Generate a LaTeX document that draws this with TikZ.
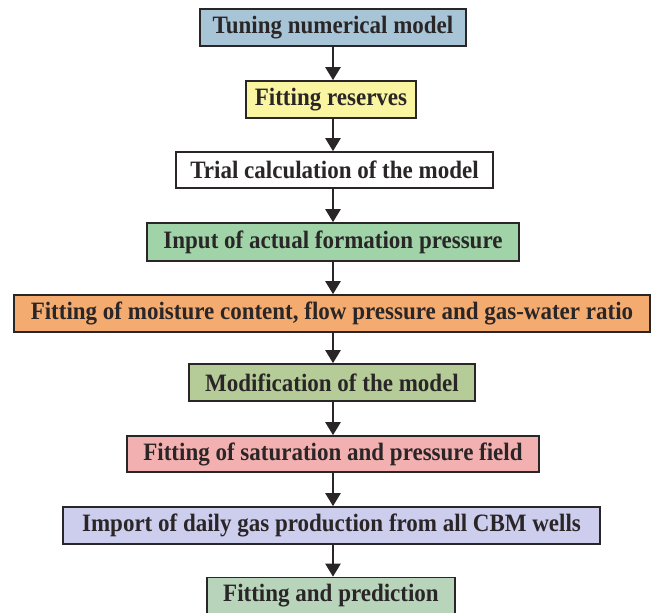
\documentclass[tikz,border=0pt]{standalone}
\usepackage{fontspec}
\setmainfont{Liberation Serif}
\newfontfamily\boxfont[FakeStretch=0.92]{Liberation Serif}
\usetikzlibrary{arrows.meta}
\definecolor{cA}{HTML}{A8C5D8}
\definecolor{cB}{HTML}{FAF5A0}
\definecolor{cC}{HTML}{FFFFFF}
\definecolor{cD}{HTML}{A0D4A8}
\definecolor{cE}{HTML}{F4AB70}
\definecolor{cF}{HTML}{B5CC98}
\definecolor{cG}{HTML}{F2B0B0}
\definecolor{cH}{HTML}{CDCDEE}
\definecolor{cI}{HTML}{B8D4BB}
\definecolor{ink}{HTML}{2A2627}
\begin{document}
\begin{tikzpicture}[x=1pt,y=-1pt,
  stepbox/.style={draw=ink,line width=1.6pt,inner sep=0pt,
    font=\boxfont\fontsize{25}{28}\selectfont\bfseries,text=ink,anchor=center},
  flow/.style={draw=ink,line width=2.2pt,-{Triangle[width=15pt,length=13pt]}}]
\useasboundingbox (0,0) rectangle (657,613);
\node[stepbox,fill=cA,minimum width=266pt,minimum height=37pt] (n1) at (333,27.5) {Tuning numerical model};
\node[stepbox,fill=cB,minimum width=170pt,minimum height=37pt] (n2) at (331,99.5) {Fitting reserves};
\node[stepbox,fill=cC,minimum width=317pt,minimum height=36pt] (n3) at (334.5,170) {Trial calculation of the model};
\node[stepbox,fill=cD,minimum width=372pt,minimum height=38pt] (n4) at (333,242) {Input of actual formation pressure};
\node[stepbox,fill=cE,minimum width=636pt,minimum height=37pt] (n5) at (332,313.5) {Fitting of moisture content, flow pressure and gas-water ratio};
\node[stepbox,fill=cF,minimum width=286pt,minimum height=37pt] (n6) at (332,382.5) {Modification of the model};
\node[stepbox,fill=cG,minimum width=412pt,minimum height=36pt] (n7) at (333,454) {Fitting of saturation and pressure field};
\node[stepbox,fill=cH,minimum width=537pt,minimum height=37pt] (n8) at (331.5,525.5) {Import of daily gas production from all CBM wells};
\node[stepbox,fill=cI,minimum width=248pt,minimum height=37pt] (n9) at (331,596) {Fitting and prediction};
\foreach \a/\b in {n1/n2,n2/n3,n3/n4,n4/n5,n5/n6,n6/n7,n7/n8,n8/n9}
  \draw[flow] (\a.south -| 333,0) -- (\b.north -| 333,0);
\end{tikzpicture}
\end{document}
